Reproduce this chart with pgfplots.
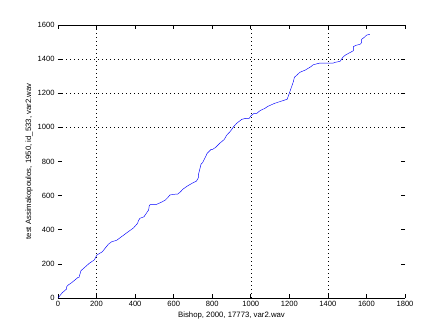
\documentclass[border=0pt]{standalone}
\usepackage{pgfplots}
\pgfplotsset{compat=1.18}
\usepackage{fontspec}
\setmainfont{Liberation Sans}
\begin{document}
\begin{tikzpicture}
\begin{axis}[
  scale only axis,
  width=347bp, height=273bp,
  xmin=0, xmax=1800, ymin=0, ymax=1600,
  xtick={0,200,...,1800}, ytick={0,200,...,1600},
  tick align=inside,
  major tick length=4bp,
  ticklabel style={font=\fontsize{7.6}{9}\selectfont},
  label style={font=\fontsize{7.8}{9}\selectfont},
  /pgf/number format/assume math mode=true,
  scaled ticks=false,
  xticklabel style={/pgf/number format/1000 sep={}},
  yticklabel style={/pgf/number format/1000 sep={}},
  separate axis lines,
  y axis line style={draw=none},
  axis line style={line width=0.6pt},
  tick style={black, line width=0.6pt},
  extra x ticks={200,1000,1400},
  extra y ticks={1000,1200,1400},
  extra x tick labels={},
  extra y tick labels={},
  extra tick style={grid=major, major tick length=0pt},
  grid style={black, line width=0.5pt, dash pattern=on 0.8bp off 3.2bp},
  xlabel={Bishop, 2000, 17773, var2.wav},
  ylabel={test Assimakopoulos, 1950, id\_533, var2.wav},
  xlabel style={yshift=2bp},
  ylabel style={yshift=-2bp},
]
\addplot[blue, line width=0.45pt] coordinates {
(0,0) (22,31) (45,53) (45,66) (53,76) (71,90) (104,121) (109,121)
(119,160) (142,183) (162,203) (188,223) (202,252) (230,271) (261,315)
(279,330) (304,338) (322,353) (353,379) (370,393) (391,410) (413,438)
(417,453) (425,467) (446,476) (470,516) (474,543) (482,549) (512,549)
(541,564) (557,574) (569,588) (581,604) (612,609) (621,609) (636,623)
(647,637) (671,656) (695,672) (719,686) (728,705) (728,721) (742,784)
(751,795) (774,848) (794,871) (802,871) (818,883) (842,910) (849,916)
(863,930) (875,954) (894,977) (911,1004) (927,1024) (953,1047) (974,1053)
(992,1053) (1001,1068) (1017,1082) (1031,1082) (1048,1098) (1074,1112)
(1088,1123) (1112,1135) (1119,1139) (1189,1165) (1221,1268) (1226,1293)
(1255,1323) (1283,1336) (1312,1356) (1324,1367) (1355,1376) (1425,1376)
(1437,1381) (1463,1387) (1480,1414) (1494,1426) (1532,1449) (1532,1473)
(1546,1481) (1567,1487) (1575,1496) (1575,1516) (1589,1528) (1601,1541)
(1618,1545)
};
\end{axis}
\pgfresetboundingbox
\path[use as bounding box] (-58bp,-37bp) rectangle (389bp,298bp);
\end{tikzpicture}
\end{document}
